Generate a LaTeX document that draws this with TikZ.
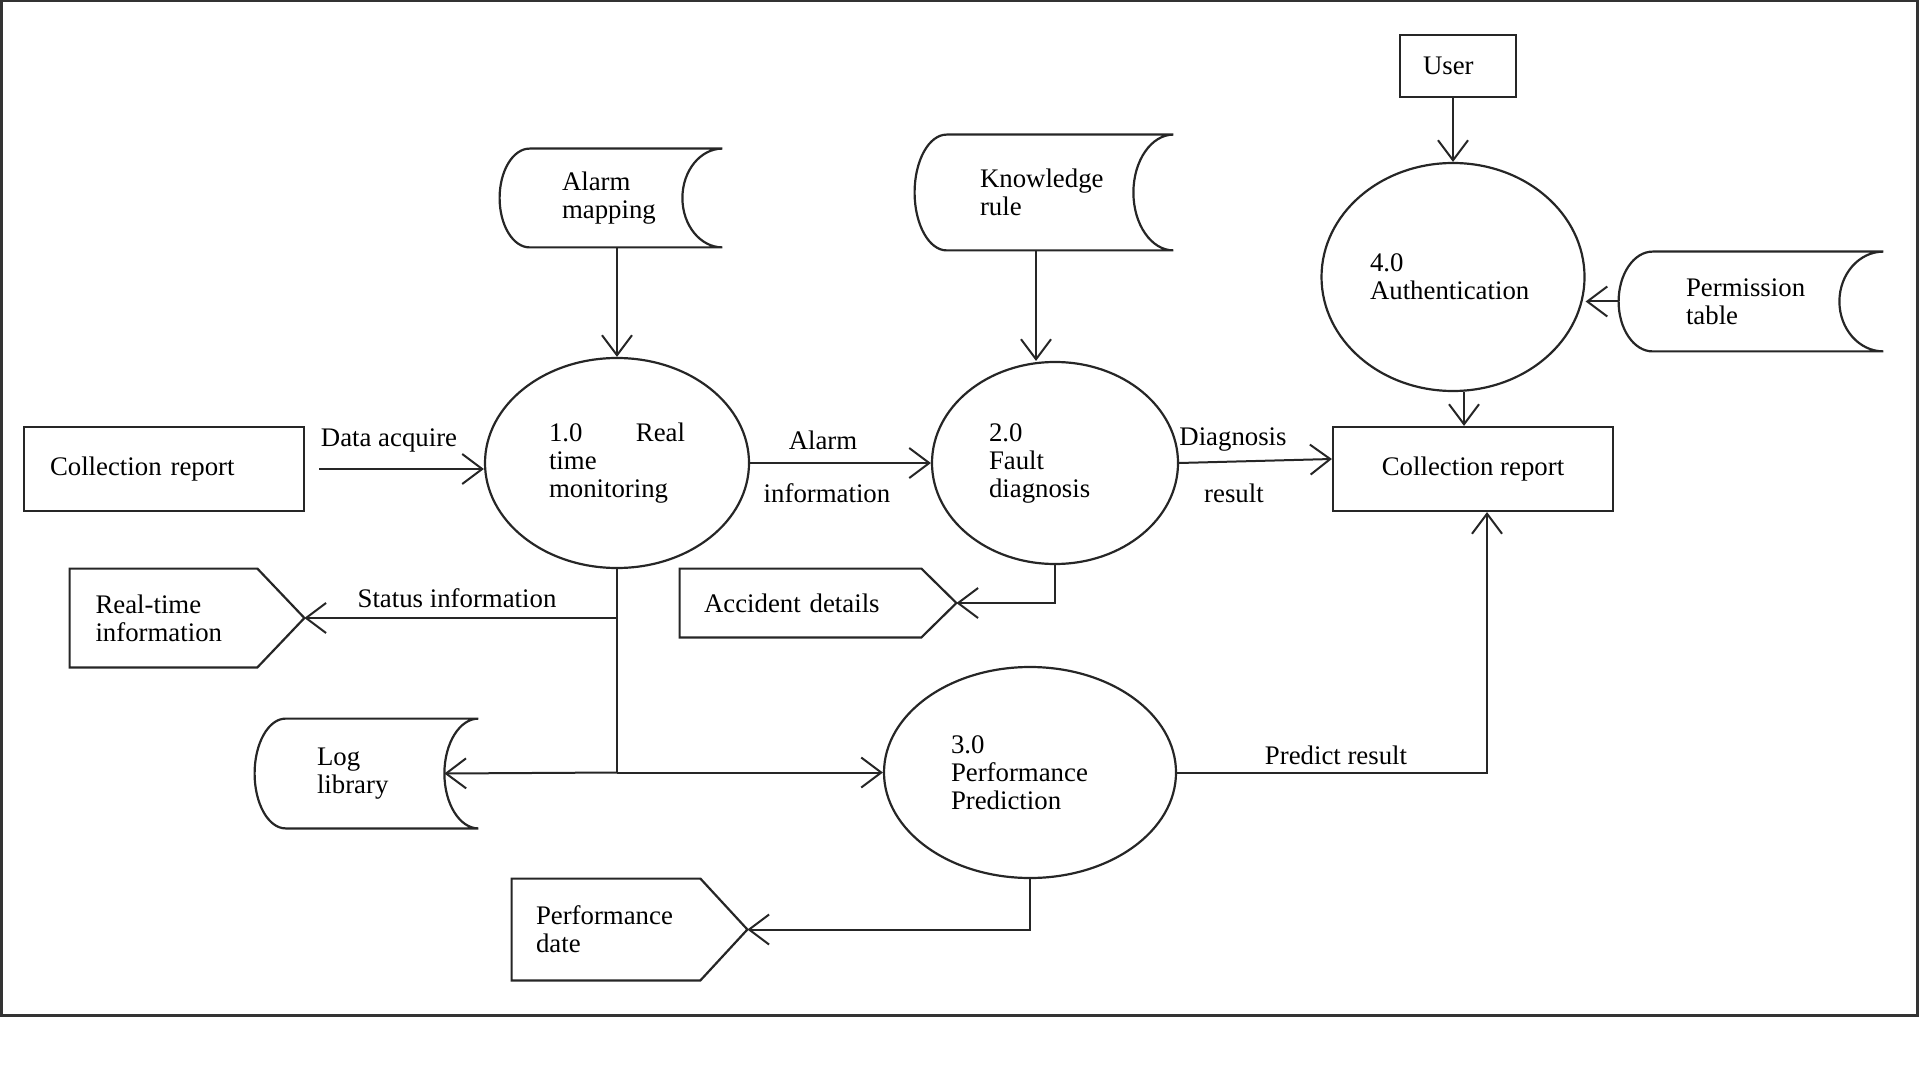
\documentclass[tikz,border=0pt]{standalone}
\usepackage{fontspec}
\setmainfont{Liberation Serif}
\usetikzlibrary{arrows.meta,shapes.geometric,calc}

\tikzset{
  shapeline/.style={line width=1.1pt, draw=black!85},
  flow/.style={line width=1pt, draw=black!85},
  arr/.style={flow, -{Straight Barb[length=10pt,width=15pt,line width=1pt]}},
  txt/.style={font=\fontsize{13.4}{14}\selectfont, inner sep=0pt, text=black},
  proc/.style={ellipse, shapeline, txt, align=left},
  box/.style={rectangle, shapeline, txt},
  holder/.style={rectangle, txt, align=left},
}

% data store outline: node, left bulge, right hollow
\newcommand{\storeoutline}[3]{%
  \draw[shapeline]
    ([xshift=#2]#1.north west) -- (#1.north east)
    .. controls ([xshift={-0.552*#3}]#1.north east) and ($([xshift=-#3]#1.east)!0.552!([xshift=-#3]#1.north east)$)
    .. ([xshift=-#3]#1.east)
    .. controls ($([xshift=-#3]#1.east)!0.552!([xshift=-#3]#1.south east)$) and ([xshift={-0.552*#3}]#1.south east)
    .. (#1.south east) -- ([xshift=#2]#1.south west)
    .. controls ([xshift={0.448*#2}]#1.south west) and ($(#1.west)!0.552!(#1.south west)$)
    .. (#1.west)
    .. controls ($(#1.west)!0.552!(#1.north west)$) and ([xshift={0.448*#2}]#1.north west)
    .. ([xshift=#2]#1.north west);}

% pointed external entity outline: node, tip depth
\newcommand{\sigoutline}[2]{%
  \draw[shapeline] (#1.north west) -- ([xshift=-#2]#1.north east) -- (#1.east)
    -- ([xshift=-#2]#1.south east) -- (#1.south west) -- cycle;}

\begin{document}
\begin{tikzpicture}[x=0.5pt,y=-0.5pt]
  \useasboundingbox (0,0) rectangle (1920,1080);
  \draw[line width=1.5pt, black!80] (1,1) rectangle (1917,1015);

  % nodes
  \node[box, draw, minimum width=58pt, minimum height=31pt, text width=35pt, align=left] (user) at (1458,66) {User};
  \node[holder, minimum width=111pt, minimum height=49pt, text width=49pt] (am) at (611,198) {Alarm\\mapping};
  \node[holder, minimum width=129pt, minimum height=57.5pt, text width=64pt] (kr) at (1044,192.5) {Knowledge\\rule};
  \node[proc, draw, minimum width=131.5pt, minimum height=114pt, text width=83pt] (c4) at (1453,277) {4.0\\Authentication};
  \node[holder, minimum width=132pt, minimum height=49.5pt, text width=65pt] (pt) at (1751,301.5) {Permission\\table};
  \node[box, draw, minimum width=140pt, minimum height=42pt, text width=114pt, align=left] (cr1) at (164,469) {Collection report};
  \node[proc, draw, minimum width=132pt, minimum height=105pt, text width=68pt] (c1) at (617,463) {1.0\hfill Real\\time\\monitoring};
  \node[proc, draw, minimum width=123pt, minimum height=101pt, text width=66pt] (c2) at (1055,463) {2.0\\Fault\\diagnosis};
  \node[box, draw, minimum width=140pt, minimum height=42pt] (cr2) at (1473,469) {Collection report};
  \node[holder, minimum width=117pt, minimum height=49pt, text width=91.5pt] (rti) at (187,618) {Real-time\\information};
  \node[holder, minimum width=138pt, minimum height=34pt, text width=114pt] (ad) at (818,603) {Accident details};
  \node[holder, minimum width=111.5pt, minimum height=54.5pt, text width=49.5pt] (ll) at (366.5,773.5) {Log\\library};
  \node[proc, draw, minimum width=146pt, minimum height=105.5pt, text width=79pt] (c3) at (1030,772.5) {3.0\\Performance\\Prediction};
  \node[holder, minimum width=117.5pt, minimum height=50.5pt, text width=93.5pt] (pd) at (629.5,929.5) {Performance\\date};

  % outlines
  \storeoutline{am}{15pt}{20pt}
  \storeoutline{kr}{16pt}{20pt}
  \storeoutline{pt}{17pt}{22pt}
  \storeoutline{ll}{15.5pt}{17pt}
  \sigoutline{rti}{23.5pt}
  \sigoutline{ad}{17.5pt}
  \sigoutline{pd}{23.5pt}

  % connectors
  \draw[arr] ([xshift=7pt]cr1.east) -- (c1.west |- cr1.east);
  \draw[arr] (c1.east) -- (c2.west);
  \draw[arr] (c2.east) -- ([yshift=5pt]cr2.west);
  \draw[arr] (am.south -| c1.north) -- (c1.north);
  \draw[arr] ([xshift=-4pt]kr.south) -- ([xshift=-4pt]kr.south |- c2.north);
  \draw[arr] (user.south -| c4.north) -- (c4.north);
  \draw[arr] (pt.west) -- (pt.west -| c4.east);
  \draw[arr] ([xshift=5.5pt]c4.south) -- ([xshift=5.5pt]c4.south |- cr2.north);
  \coordinate (jn) at (c1.south |- c3.west);
  \draw[flow] (c1.south) -- (jn);
  \draw[arr] (c1.south |- rti.east) -- (rti.east);
  \draw[arr] (jn) -- ([xshift=-17pt]ll.east);
  \draw[arr] (jn) -- (c3.west);
  \draw[arr] (c2.south) |- (ad.east);
  \draw[arr] (c3.east) -| ([xshift=7pt]cr2.south);
  \draw[arr] (c3.south) |- (pd.east);

  % flow labels
  \node[txt] (l1) at (389,440) {Data acquire};
  \node[txt] (l2) at (823,440) {Alarm};
  \node[txt] (l3) at (827,493) {information};
  \node[txt] (l4) at (1233,440) {Diagnosis};
  \node[txt] (l5) at (1234,493) {result};
  \node[txt] (l6) at (457,598) {Status information};
  \node[txt] (l7) at (1336,755) {Predict result};
\end{tikzpicture}
\end{document}
